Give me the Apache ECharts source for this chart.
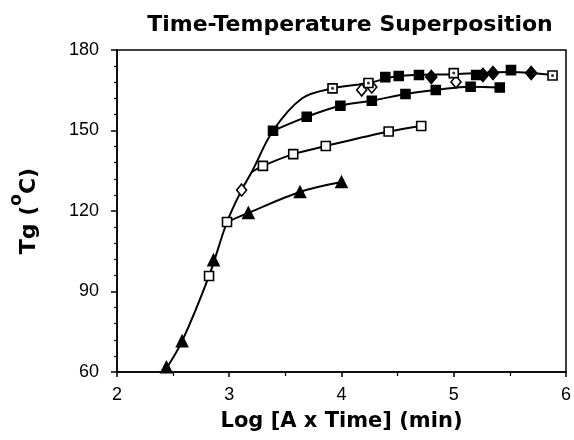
<!DOCTYPE html>
<html><head><meta charset="utf-8">
<script src="https://cdn.jsdelivr.net/npm/echarts@6/dist/echarts.min.js"></script>
<style>html,body{margin:0;padding:0;background:#fff}#c{width:574px;height:440px}</style>
</head><body><div id="c"></div>
<script>
// x / y axis ticks
const xTicks = [2, 3, 4, 5, 6];
const yTicks = [60, 90, 120, 150, 180];
// marker series [log(A*t), Tg]
const triangles = [[2.44,61.8],[2.58,71.5],[2.86,101.7],[3.17,119.3],[3.63,127.1],[4.00,130.8]];
const openSquares = [[2.82,95.8],[2.98,115.9],[3.30,136.8],[3.57,141.2],[3.86,144.2],[4.42,149.6],[4.71,151.7]];
const filledSquares = [[3.39,149.9],[3.69,155.1],[3.99,159.2],[4.27,161.1],[4.57,163.6],[4.84,165.1],[5.15,166.3],[5.41,166.0]];
const openDiamonds = [[3.11,127.8],[4.18,165.1],[4.27,166.2],[5.02,168.1]];
const dotSquares = [[3.92,165.7],[4.24,167.7],[5.00,171.4],[5.88,170.5]];
const upperFilledSquares = [[4.39,169.9],[4.51,170.3],[4.69,170.7],[5.20,170.7],[5.51,172.5]];
const filledDiamonds = [[4.80,169.9],[5.26,170.7],[5.35,171.4],[5.69,171.4]];
// fitted curves
const masterCurve = [[2.42,60],[2.58,71.5],[2.82,95.8],[2.98,115.9],[3.11,127.8],[3.20,134.5],[3.39,149.9],[3.65,162.0],[3.92,165.7],[4.24,167.7],[4.51,170.3],[5.00,171.0],[5.51,171.8],[5.88,170.7]];
const triangleBranch = [[2.98,115.9],[3.17,119.3],[3.63,127.1],[4.00,130.8]];
const openSquareBranch = [[3.20,134.5],[3.30,136.8],[3.57,141.2],[3.86,144.2],[4.42,149.6],[4.71,151.7]];
const filledSquareBranch = filledSquares;

const FONT = '"Liberation Sans", Arial, sans-serif';
const BOLD = '"DejaVu Sans", "Liberation Sans", sans-serif';
const lineS = (data) => ({type:'line', data, smooth:0.35, showSymbol:false, silent:true,
  lineStyle:{color:'#000', width:2}, z:2});
const marker = (data, symbol, size, filled, z) => ({type:'scatter', data, symbol, symbolSize:size, z:z||5,
  itemStyle:{color: filled ? '#000' : '#fff', borderColor:'#000', borderWidth:1.6, opacity:1}});

const chart = echarts.init(document.getElementById('c'), null, {renderer:'canvas'});
chart.setOption({
  animation:false,
  backgroundColor:'#fff',
  title:{text:'Time-Temperature Superposition', left:345, textAlign:'center', top:9,
    textStyle:{fontFamily:BOLD, fontWeight:'bold', fontSize:22, color:'#000'}},
  grid:{left:117, right:6, top:50, bottom:68, show:true, borderColor:'#000', borderWidth:1.5},
  xAxis:{type:'value', min:xTicks[0], max:xTicks[xTicks.length-1], interval:1,
    name:'Log [A x Time] (min)', nameLocation:'middle', nameGap:39,
    nameTextStyle:{fontFamily:BOLD, fontWeight:'bold', fontSize:21, color:'#000'},
    axisLine:{lineStyle:{color:'#000', width:1.5}},
    axisTick:{inside:false, length:5, lineStyle:{color:'#000', width:1.5}},
    minorTick:{show:true, splitNumber:2, length:4, lineStyle:{color:'#000', width:1.2}},
    splitLine:{show:false},
    axisLabel:{fontFamily:FONT, fontSize:18, color:'#000', margin:14}},
  yAxis:{type:'value', min:yTicks[0], max:yTicks[yTicks.length-1], interval:30,
    name:'{a|Tg (}{s|o}{a|C)}', nameLocation:'middle', nameGap:77, nameRotate:90,
    nameTextStyle:{rich:{
      a:{fontFamily:BOLD, fontWeight:'bold', fontSize:22, color:'#000', lineHeight:32, verticalAlign:'bottom'},
      s:{fontFamily:BOLD, fontWeight:'bold', fontSize:17, color:'#000', lineHeight:32, verticalAlign:'top'}}},
    axisLine:{lineStyle:{color:'#000', width:1.5}},
    axisTick:{inside:false, length:6, lineStyle:{color:'#000', width:1.5}},
    minorTick:{show:true, splitNumber:5, length:3, lineStyle:{color:'#000', width:1.2}},
    splitLine:{show:false},
    axisLabel:{fontFamily:FONT, fontSize:18, color:'#000', margin:18}},
  series:[
    lineS(masterCurve), lineS(triangleBranch), lineS(openSquareBranch), lineS(filledSquareBranch),
    marker(triangles, 'triangle', 11, true),
    marker(openSquares, 'rect', 9, false),
    marker(filledSquares, 'rect', 9, true),
    marker(upperFilledSquares, 'rect', 9, true),
    marker(openDiamonds, 'diamond', [10,12], false),
    marker(filledDiamonds, 'diamond', [11,13], true),
    marker(dotSquares, 'rect', 9, false),
    {type:'scatter', data:dotSquares, symbol:'circle', symbolSize:3, z:6, itemStyle:{color:'#000'}}
  ]
});
</script></body></html>
